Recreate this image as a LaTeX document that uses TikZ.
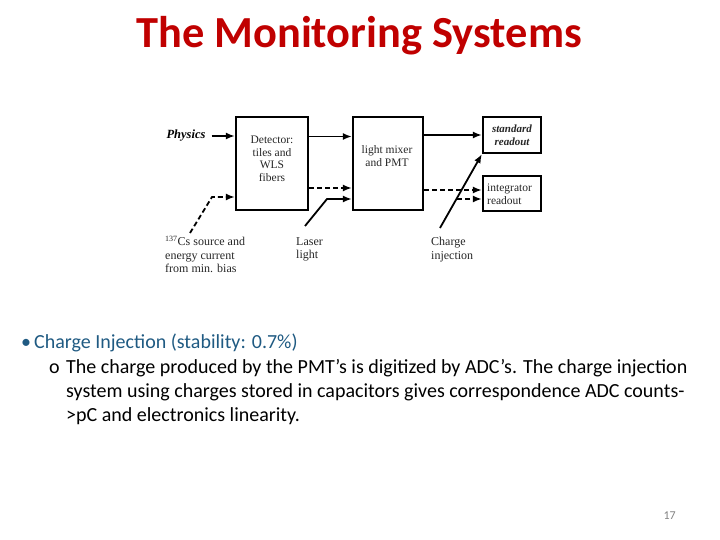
\documentclass[tikz,border=0pt]{standalone}
\usepackage{fontspec}
\setmainfont{Carlito}
\newfontfamily\diagfont{Liberation Serif}
\usetikzlibrary{arrows.meta}
\definecolor{titlered}{RGB}{192,0,0}
\definecolor{bulletblue}{RGB}{31,90,130}
\definecolor{pagegray}{RGB}{130,130,130}

\begin{document}
\begin{tikzpicture}[x=1pt,y=-1pt,
  box/.style={draw, line width=2.2pt, inner sep=0pt},
  lbl/.style={font=\diagfont\fontsize{11.5}{12.5}\selectfont, text=black!85, inner sep=0pt},
  outlbl/.style={lbl, font=\diagfont\fontsize{12}{13.5}\selectfont, align=left, anchor=north west},
  arr/.style={line width=1.8pt, -{Latex[length=9pt,width=7pt]}},
  darr/.style={arr, dash pattern=on 5pt off 3pt},
  bodytext/.style={anchor=base west, inner sep=0pt, font=\fontsize{20}{24}\selectfont}]

\useasboundingbox (0,0) rectangle (720,540);

% Title
\node[font=\fontsize{44.4}{48}\selectfont\bfseries, text=titlered] (title) at (359,36) {The Monitoring Systems};

% Boxes
\node[box, minimum width=72, minimum height=93] (det) at (272,163.5) {};
\node[box, minimum width=70, minimum height=93] (mix) at (388,163.5) {};
\node[box, minimum width=58, minimum height=36] (std) at (512,135) {};
\node[box, minimum width=58, minimum height=35] (int) at (512,193.5) {};

% Box texts
\node[lbl, align=center] (dettext) at (272,159) {Detector:\\tiles and\\WLS\\fibers};
\node[lbl, align=center] (mixtext) at (387,156) {light mixer\\and PMT};
\node[lbl, align=center, font=\diagfont\fontsize{11}{12.5}\selectfont\bfseries\itshape] (stdtext) at (512,135) {standard\\readout};
\node[lbl, align=left, anchor=west] (inttext) at (487,194) {integrator\\readout};

% Outside labels
\node[lbl, font=\diagfont\fontsize{12.5}{14}\selectfont\bfseries\itshape, text=black] (phys) at (186,136) {Physics};
\node[outlbl] (cs) at (165,236) {\textsuperscript{137}Cs source and\\energy current\\from min. bias};
\node[outlbl] (laser) at (296,237) {Laser\\light};
\node[outlbl] (charge) at (431,237) {Charge\\injection};

% Connectors
\coordinate (csstart) at (190,233);
\coordinate (csbend) at (212,197);
\coordinate (lasstart) at (305,226);
\coordinate (lasbend) at (327,199);
\coordinate (chstart) at (440,228);
\coordinate (chcross) at (457,199);

\draw[arr, line width=2.8pt, shorten <=6pt] (phys.east) -- (phys.east -| det.west);
\draw[darr] (csstart) -- (csbend) -- (csbend -| det.west);
\draw[arr] ([yshift=27pt]det.east) -- ([yshift=27pt]det.east -| mix.west);
\draw[darr] ([yshift=-24.5pt]det.east) -- ([yshift=-24.5pt]det.east -| mix.west);
\draw[arr] (lasstart) -- (lasbend) -- (lasbend -| mix.west);
\draw[arr] (mix.east |- std.west) -- (std.west);
\draw[darr] ([yshift=3.5pt]int.west -| mix.east) -- ([yshift=3.5pt]int.west);
\draw[darr] (chcross) -- (chcross -| int.west);
\draw[arr] (chstart) -- (std.south west);

% Bullets
\node[bodytext, text=bulletblue] (dot1) at (21,348) {\textbullet};
\node[bodytext, text=bulletblue] (item1) at (34,348) {Charge Injection (stability: 0.7\%)};
\node[bodytext] (dot2) at (49,373) {o};
\node[bodytext] (line1) at (66,373) {The charge produced by the PMT’s is digitized by ADC’s. The charge injection};
\node[bodytext] (line2) at (66,397) {system using charges stored in capacitors gives correspondence ADC counts-};
\node[bodytext] (line3) at (66,421) {>pC and electronics linearity.};

% Page number
\node[anchor=base east, inner sep=0pt, font=\fontsize{12}{14}\selectfont, text=pagegray] (page) at (676,519) {17};

\end{tikzpicture}
\end{document}
